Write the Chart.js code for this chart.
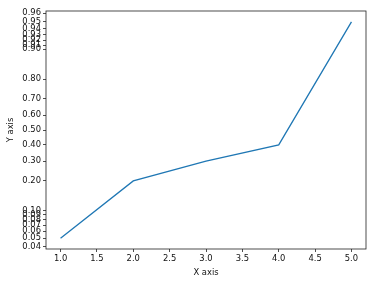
<!DOCTYPE html>
<html>
<head>
<meta charset="utf-8">
<script src="https://cdn.jsdelivr.net/npm/chart.js@4/dist/chart.umd.min.js"></script>
<style>
  body { margin: 0; background: #fff; }
</style>
</head>
<body>
<canvas id="chart" width="380" height="283"></canvas>
<script>
const xValues = [1, 2, 3, 4, 5];
const yValues = [0.05, 0.2, 0.3, 0.4, 0.95];
const xTicks = [1.0, 1.5, 2.0, 2.5, 3.0, 3.5, 4.0, 4.5, 5.0];
const yTicks = [0.04, 0.05, 0.06, 0.07, 0.08, 0.09, 0.10, 0.20, 0.30, 0.40, 0.50,
                0.60, 0.70, 0.80, 0.90, 0.91, 0.92, 0.93, 0.94, 0.95, 0.96];

const logit = p => Math.log(p / (1 - p));
const expit = v => 1 / (1 + Math.exp(-v));

// logit scale like matplotlib's set_yscale('logit')
class LogitScale extends Chart.Scale {
    static id = 'logit';
    static defaults = {};

    parse(raw) { return +raw; }

    determineDataLimits() {
        const { min, max } = this.getMinMax(true);
        this.min = this.options.min ?? min;
        this.max = this.options.max ?? max;
    }

    buildTicks() {
        return yTicks.filter(v => v >= this.min && v <= this.max).map(v => ({ value: v }));
    }

    configure() {
        super.configure();
        this._start = logit(this.min);
        this._range = logit(this.max) - this._start;
    }

    getLabelForValue(v) { return v.toFixed(2); }

    getPixelForValue(v) {
        return this.getPixelForDecimal((logit(v) - this._start) / this._range);
    }

    getValueForPixel(p) {
        return expit(this._start + this.getDecimalForPixel(p) * this._range);
    }

    getPixelForTick(i) { return this.getPixelForValue(this.ticks[i].value); }
}
Chart.register(LogitScale);

const frame = {
    id: 'frame',
    afterDraw(chart) {
        const { ctx, chartArea: a } = chart;
        ctx.save();
        ctx.strokeStyle = '#222';
        ctx.lineWidth = 0.8;
        ctx.strokeRect(a.left, a.top, a.right - a.left, a.bottom - a.top);
        ctx.restore();
    }
};

const font = { family: 'DejaVu Sans', size: 8.4 };

new Chart(document.getElementById('chart'), {
    type: 'line',
    data: {
        datasets: [{
            data: xValues.map((x, i) => ({ x: x, y: yValues[i] })),
            borderColor: '#1f77b4',
            borderWidth: 1.3,
            pointRadius: 0,
            tension: 0,
            fill: false
        }]
    },
    options: {
        responsive: false,
        devicePixelRatio: 1,
        animation: false,
        layout: { padding: { top: 11, right: 14, left: 0, bottom: 5 } },
        plugins: { legend: { display: false }, tooltip: { enabled: false } },
        scales: {
            x: {
                type: 'linear',
                min: 0.8,
                max: 5.2,
                afterBuildTicks: s => { s.ticks = xTicks.map(v => ({ value: v })); },
                afterFit: s => { s.height = 29; },
                grid: { drawOnChartArea: false, tickLength: 3, tickColor: '#222', tickWidth: 0.8 },
                border: { display: false },
                ticks: { color: '#111', font: font, padding: 2, maxRotation: 0, autoSkip: false,
                         callback: v => v.toFixed(1) },
                title: { display: true, text: 'X axis', color: '#111', font: font, padding: { top: 1, bottom: 0 } }
            },
            y: {
                type: 'logit',
                min: 0.0377,
                max: 0.9623,
                afterFit: s => { s.width = 46; },
                grid: { drawOnChartArea: false, tickLength: 3, tickColor: '#222', tickWidth: 0.8 },
                border: { display: false },
                ticks: { color: '#111', font: font, padding: 2, autoSkip: false,
                         callback: v => v.toFixed(2) },
                title: { display: true, text: 'Y axis', color: '#111', font: font, padding: { top: 6, bottom: 0 } }
            }
        }
    },
    plugins: [frame]
});
</script>
</body>
</html>
